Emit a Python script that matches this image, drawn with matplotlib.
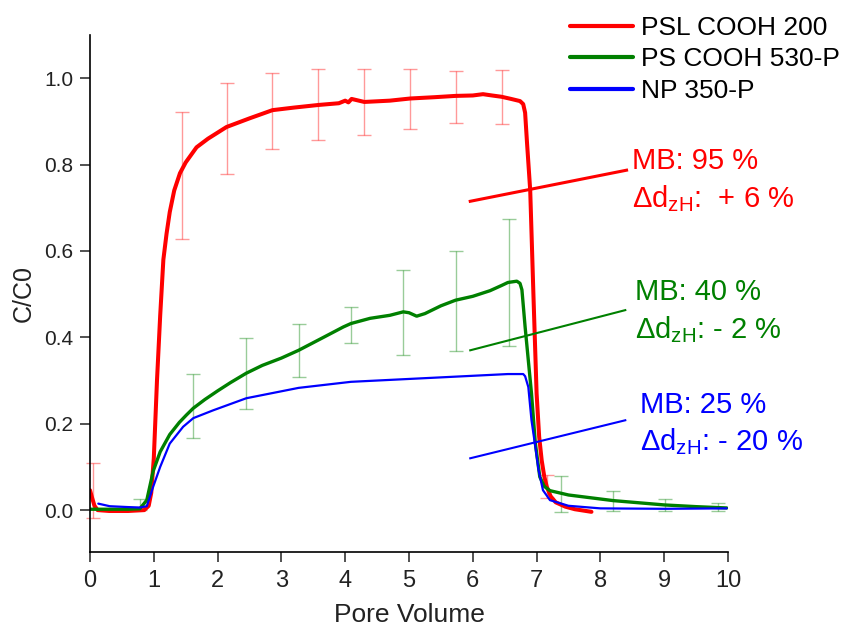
import numpy as np
import matplotlib
matplotlib.use('Agg')
import matplotlib.pyplot as plt

plt.rcParams['font.family'] = ['Liberation Sans', 'DejaVu Sans']
plt.rcParams['mathtext.fontset'] = 'custom'
plt.rcParams['mathtext.rm'] = 'Liberation Sans'
plt.rcParams['mathtext.default'] = 'rm'

# PSL COOH 200
red_x = [0.0, 0.03, 0.07, 0.12, 0.3, 0.6, 0.85, 0.92, 0.96, 1.0, 1.05, 1.1, 1.15, 1.2, 1.25,
         1.32, 1.41, 1.5, 1.67, 1.85, 2.14, 2.5, 2.86, 3.2, 3.58, 3.9, 4.0, 4.05, 4.1, 4.3,
         4.7, 5.02, 5.4, 5.73, 6.0, 6.16, 6.3, 6.45, 6.6, 6.74, 6.79, 6.82, 6.85, 6.9, 6.95,
         7.0, 7.04, 7.08, 7.12, 7.16, 7.22, 7.3, 7.45, 7.6, 7.86]
red_y = [0.046, 0.03, 0.01, 0.0, -0.002, -0.002, 0.0, 0.01, 0.04, 0.12, 0.3, 0.45, 0.58, 0.64, 0.69,
         0.74, 0.78, 0.805, 0.84, 0.86, 0.887, 0.907, 0.926, 0.932, 0.938, 0.942, 0.948, 0.944, 0.952, 0.945,
         0.948, 0.953, 0.956, 0.959, 0.96, 0.963, 0.96, 0.957, 0.952, 0.947, 0.94, 0.92, 0.85, 0.74, 0.50,
         0.27, 0.17, 0.115, 0.078, 0.054, 0.032, 0.018, 0.008, 0.002, -0.004]

# PS COOH 530-P
green_x = [0.0, 0.3, 0.6, 0.78, 0.89, 0.99, 1.1, 1.25, 1.4, 1.51, 1.62, 1.8, 2.0, 2.2, 2.45, 2.7,
           3.0, 3.27, 3.66, 3.97, 4.09, 4.39, 4.7, 4.91, 5.0, 5.12, 5.25, 5.5, 5.73, 6.0, 6.27,
           6.45, 6.55, 6.69, 6.74, 6.77, 6.82, 6.87, 6.92, 6.98, 7.05, 7.12, 7.21, 7.5, 8.2, 9.0, 9.5, 9.98]
green_y = [0.002, 0.002, 0.002, 0.003, 0.023, 0.09, 0.135, 0.175, 0.203, 0.22, 0.236, 0.256, 0.276, 0.295, 0.317, 0.335,
           0.352, 0.370, 0.40, 0.424, 0.432, 0.444, 0.451, 0.459, 0.457, 0.449, 0.455, 0.473, 0.486, 0.495, 0.508,
           0.520, 0.527, 0.530, 0.525, 0.51, 0.424, 0.347, 0.27, 0.155, 0.077, 0.055, 0.045, 0.035, 0.022, 0.012, 0.008, 0.005]

# NP 350-P
blue_x = [0.13, 0.31, 0.6, 0.78, 0.89, 0.99, 1.1, 1.25, 1.46, 1.62, 1.93, 2.45, 3.27, 4.09, 4.91,
          5.73, 6.55, 6.79, 6.82, 6.87, 6.92, 6.98, 7.03, 7.1, 7.21, 7.5, 8.0, 9.0, 9.98]
blue_y = [0.015, 0.009, 0.007, 0.006, 0.009, 0.054, 0.10, 0.154, 0.193, 0.213, 0.231, 0.259, 0.283, 0.297, 0.303,
          0.309, 0.315, 0.315, 0.31, 0.285, 0.208, 0.147, 0.093, 0.046, 0.023, 0.01, 0.004, 0.003, 0.004]

# error bars: position, low, high
red_err_x = [0.05, 1.44, 2.14, 2.86, 3.58, 4.30, 5.02, 5.73, 6.45, 7.16]
red_err_lo = [-0.018, 0.627, 0.779, 0.837, 0.858, 0.868, 0.883, 0.897, 0.893, 0.028]
red_err_hi = [0.108, 0.922, 0.990, 1.013, 1.021, 1.022, 1.022, 1.017, 1.019, 0.081]

green_err_x = [0.78, 1.62, 2.45, 3.27, 4.09, 4.91, 5.73, 6.57, 7.38, 8.20, 9.02, 9.84]
green_err_lo = [0.0, 0.166, 0.234, 0.308, 0.388, 0.358, 0.369, 0.380, -0.005, -0.002, -0.002, -0.002]
green_err_hi = [0.025, 0.316, 0.399, 0.432, 0.470, 0.555, 0.601, 0.675, 0.079, 0.044, 0.026, 0.017]

# annotation pointer lines
red_note = ([5.96, 8.41], [0.715, 0.787])
green_note = ([5.96, 8.39], [0.370, 0.463])
blue_note = ([5.96, 8.39], [0.120, 0.208])

RED = '#ff0000'
GREEN = '#008000'
BLUE = '#0000ff'

fig = plt.figure(figsize=(8.43, 6.3), dpi=100)
ax = fig.add_axes([90 / 843, 1 - 552 / 630, (728 - 90) / 843, (552 - 35) / 630])


def bars(x, lo, hi, color):
    lo = np.array(lo)
    hi = np.array(hi)
    mid = (lo + hi) / 2
    ax.errorbar(x, mid, yerr=(hi - lo) / 2, fmt='none', ecolor=color, alpha=0.4,
                elinewidth=1.0, capsize=5, capthick=1.0, clip_on=False)


bars(red_err_x, red_err_lo, red_err_hi, RED)
bars(green_err_x, green_err_lo, green_err_hi, GREEN)

l1, = ax.plot(red_x, red_y, color=RED, lw=2.9, label='PSL COOH 200', solid_capstyle='round')
l2, = ax.plot(green_x, green_y, color=GREEN, lw=2.4, label='PS COOH 530-P', solid_capstyle='round')
l3, = ax.plot(blue_x, blue_y, color=BLUE, lw=1.6, label='NP 350-P', solid_capstyle='round')

ax.plot(*red_note, color=RED, lw=2.2)
ax.plot(*green_note, color=GREEN, lw=1.5)
ax.plot(*blue_note, color=BLUE, lw=1.5)

fs = 21
ax.text(8.50, 0.789, 'MB: 95 %', color=RED, fontsize=fs, va='baseline')
ax.text(8.50, 0.701, r'Δd$_{zH}$:  + 6 %', color=RED, fontsize=fs, va='baseline')
ax.text(8.54, 0.486, 'MB: 40 %', color=GREEN, fontsize=fs, va='baseline')
ax.text(8.54, 0.398, r'Δd$_{zH}$: - 2 %', color=GREEN, fontsize=fs, va='baseline')
ax.text(8.62, 0.225, 'MB: 25 %', color=BLUE, fontsize=fs, va='baseline')
ax.text(8.62, 0.139, r'Δd$_{zH}$: - 20 %', color=BLUE, fontsize=fs, va='baseline')

ax.set_xlim(0, 10)
ax.set_ylim(-0.097, 1.10)
ax.set_xticks(range(0, 11))
ax.set_yticks([0.0, 0.2, 0.4, 0.6, 0.8, 1.0])
ax.set_yticklabels(['0.0', '0.2', '0.4', '0.6', '0.8', '1.0'])
for s in ['top', 'right']:
    ax.spines[s].set_visible(False)
for s in ['left', 'bottom']:
    ax.spines[s].set_linewidth(1.2)
ax.tick_params(axis='x', direction='out', length=7, width=1.1, labelsize=17, pad=6, colors='#222222')
ax.tick_params(axis='y', direction='out', length=7, width=1.1, labelsize=15, pad=5, colors='#222222')
ax.set_xlabel('Pore Volume', fontsize=19, labelpad=8, color='#222222')
ax.set_ylabel('C/C0', fontsize=18, labelpad=6, color='#222222')

leg = ax.legend(handles=[l1, l2, l3], loc='upper left', bbox_to_anchor=(570 / 843, 0.975),
                bbox_transform=fig.transFigure, frameon=False, fontsize=19,
                handlelength=2.4, handletextpad=0.3, labelspacing=0.29,
                borderpad=0, borderaxespad=0)
for h in leg.legend_handles:
    h.set_linewidth(3.0)

fig.savefig('out.png', dpi=100)
